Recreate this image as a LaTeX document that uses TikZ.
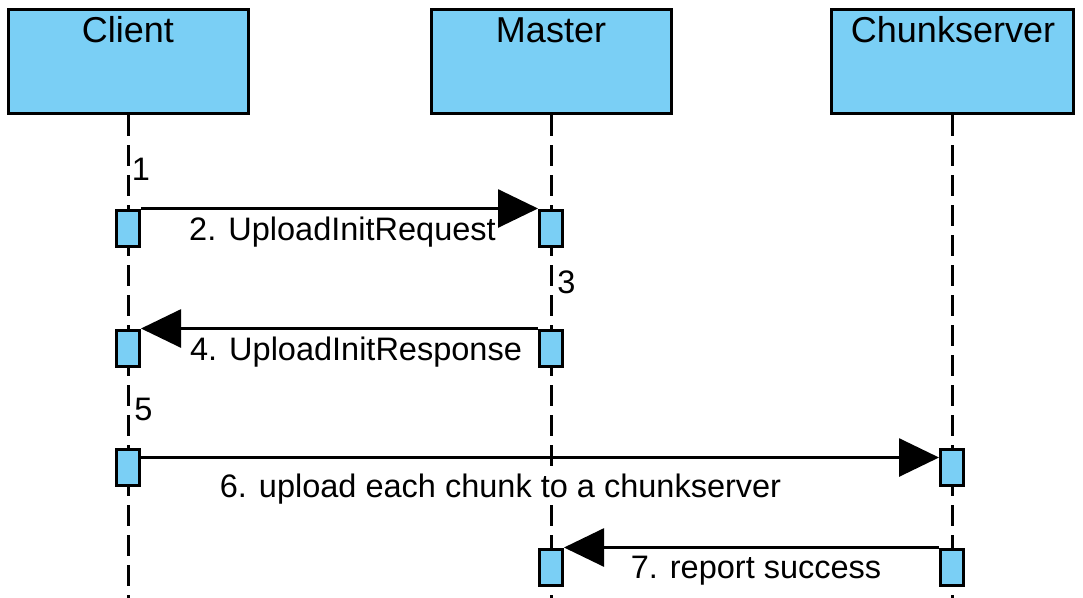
\documentclass[tikz,border=0pt]{standalone}
\usepackage{fontspec}
\setmainfont{Liberation Sans}
\usetikzlibrary{arrows.meta}

\definecolor{actblue}{RGB}{122,207,245}

\begin{document}
\begin{tikzpicture}[x=1pt, y=-1pt, line width=3.0pt, line join=miter,
  actor/.style={draw, fill=actblue, rectangle, inner sep=0pt, minimum height=104pt},
  act/.style={draw, fill=actblue, rectangle, inner sep=0pt, minimum width=23pt, minimum height=36pt},
  life/.style={dash pattern=on 21pt off 9pt},
  msg/.style={line width=2.8pt, -{Triangle[length=40pt,width=38pt]}},
  ttl/.style={anchor=base, inner sep=0pt, font=\fontsize{36}{43}\selectfont},
  lbl/.style={anchor=base, inner sep=1pt, fill=white, font=\fontsize{32.5}{39}\selectfont}]

  %% ════ 参与者方框 ════
  \node[actor, minimum width=240pt] (client) at (128.5,61.5) {};
  \node[actor, minimum width=240pt] (master) at (551.5,61.5) {};
  \node[actor, minimum width=242pt] (chunk)  at (952.5,61.5) {};
  \node[ttl] (clientttl) at (128.0,42.0) {Client};
  \node[ttl] (masterttl) at (551.0,42.0) {Master};
  \node[ttl] (chunkttl)  at (953.0,42.0) {Chunkserver};

  %% ════ 生命线（虚线，到画布底）════
  \coordinate (clientend) at (128.0,600.0);
  \coordinate (masterend) at (551.0,600.0);
  \coordinate (chunkend)  at (952.0,600.0);
  \draw[life] (client.south -| clientend) -- (clientend);
  \draw[life] (master.south -| masterend) -- (masterend);
  \draw[life] (chunk.south -| chunkend) -- (chunkend);

  %% ════ 标签（白底，盖住生命线）════
  \node[lbl] (s1) at (141.0,180.0) {1};
  \node[lbl] (s3) at (566.5,293.0) {3};
  \node[lbl] (s5) at (143.5,420.0) {5};
  \node[lbl] (m2) at (342.5,240.0) {2. UploadInitRequest};
  \node[lbl] (m4) at (356.0,360.0) {4. UploadInitResponse};
  \node[lbl] (m6) at (500.5,497.0) {6. upload each chunk to a chunkserver};
  \node[lbl] (m7) at (756.0,578.0) {7. report success};

  %% ════ 激活框 ════
  \node[act] (ca1) at (128.0,228.0) {};
  \node[act] (ma1) at (551.0,228.0) {};
  \node[act] (ca2) at (128.0,348.0) {};
  \node[act] (ma2) at (551.0,348.0) {};
  \node[act] (ca3) at (128.0,467.0) {};
  \node[act] (cs1) at (952.0,467.0) {};
  \node[act] (ma3) at (551.0,567.0) {};
  \node[act] (cs2) at (952.0,567.0) {};

  %% ════ 消息箭头 ════
  \draw[msg] (ca1.north east) -- (ma1.north west);
  \draw[msg] (ma2.north west) -- (ca2.north east);
  \draw[msg] ([yshift=-10pt]ca3.north east) -- ([yshift=-10pt]cs1.north west);
  \draw[msg] (cs2.north west) -- (ma3.north east);

  % 画布固定为原图尺寸
  \pgfresetboundingbox
  \path[use as bounding box] (0,0) rectangle (1083,597);
\end{tikzpicture}
\end{document}
